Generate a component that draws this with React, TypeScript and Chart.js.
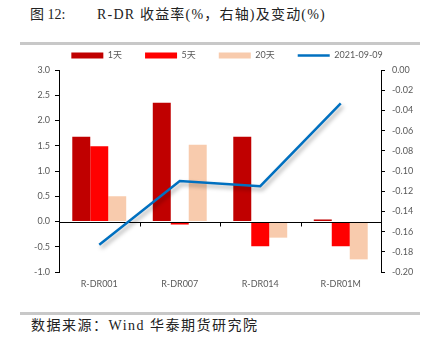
import React, { useEffect, useRef } from 'react';
import { Chart, registerables } from 'chart.js';

Chart.register(...registerables);

const categories = ['R-DR001', 'R-DR007', 'R-DR014', 'R-DR01M'];
const change1d = [1.68, 2.35, 1.68, 0.04];
const change5d = [1.49, -0.06, -0.49, -0.49];
const change20d = [0.5, 1.52, -0.32, -0.75];
const rate20210909 = [-0.173, -0.11, -0.115, -0.033];
const seriesNames = ['1天', '5天', '20天', '2021-09-09'];
const seriesColors = ['#C00000', '#FF0000', '#F8CBAD', '#0070C0'];
const leftAxis = { min: -1, max: 3, step: 0.5 };
const rightAxis = { min: -0.2, max: 0, step: 0.02 };

const FONT = 'Lato, "Noto Sans CJK SC", sans-serif';
const TICK_COLOR = '#595959';

const overlayPlugin = {
  id: 'overlay',
  beforeLayout(chart: any) {
    const legend = chart.legend;
    if (legend && !legend.__patched) {
      const orig = legend.fit;
      legend.fit = function () {
        orig.call(this);
        this.height = 42;
      };
      legend.__patched = true;
    }
  },
  beforeDatasetDraw(chart: any, args: any) {
    if (args.index !== 3) return;
    const ctx = chart.ctx;
    const xs = chart.scales.x;
    const ys = chart.scales.y;
    const y0 = Math.round(ys.getPixelForValue(0)) + 0.5;
    ctx.save();
    ctx.strokeStyle = '#000';
    ctx.lineWidth = 1;
    ctx.beginPath();
    ctx.moveTo(chart.chartArea.left, y0);
    ctx.lineTo(chart.chartArea.right, y0);
    for (let i = 1; i < categories.length; i++) {
      const x = Math.round((xs.getPixelForValue(i - 1) + xs.getPixelForValue(i)) / 2) + 0.5;
      ctx.moveTo(x, y0);
      ctx.lineTo(x, y0 + 4);
    }
    ctx.stroke();
    ctx.restore();
    ctx.save();
    ctx.shadowColor = 'rgba(0,0,0,0.35)';
    ctx.shadowBlur = 4;
    ctx.shadowOffsetX = 2;
    ctx.shadowOffsetY = 3;
  },
  afterDatasetDraw(chart: any, args: any) {
    if (args.index !== 3) return;
    chart.ctx.restore();
  },
};

function ChartView() {
  const ref = useRef<HTMLCanvasElement>(null);
  useEffect(() => {
    if (!ref.current) return;
    const barCommon = { yAxisID: 'y', order: 2, categoryPercentage: 0.67, barPercentage: 1 };
    const chart = new Chart(ref.current, {
      type: 'bar',
      data: {
        labels: categories,
        datasets: [
          { ...barCommon, type: 'bar', label: seriesNames[0], data: change1d, backgroundColor: seriesColors[0] },
          { ...barCommon, type: 'bar', label: seriesNames[1], data: change5d, backgroundColor: seriesColors[1] },
          { ...barCommon, type: 'bar', label: seriesNames[2], data: change20d, backgroundColor: seriesColors[2] },
          {
            type: 'line',
            label: seriesNames[3],
            data: rate20210909,
            borderColor: seriesColors[3],
            backgroundColor: seriesColors[3],
            borderWidth: 2.5,
            pointRadius: 0,
            tension: 0,
            fill: false,
            yAxisID: 'y1',
            order: 1,
          },
        ] as any,
      },
      options: {
        animation: false,
        responsive: false,
        maintainAspectRatio: false,
        layout: { padding: { left: 19, right: 0, top: 0, bottom: 0 } },
        plugins: {
          tooltip: { enabled: false },
          legend: {
            position: 'top',
            labels: {
              usePointStyle: true,
              pointStyleWidth: 32,
              boxHeight: 6,
              padding: 23,
              color: TICK_COLOR,
              font: { family: FONT, size: 9 },
              sort: (a: any, b: any) => a.datasetIndex - b.datasetIndex,
              generateLabels(c: any) {
                const items = (Chart as any).defaults.plugins.legend.labels.generateLabels(c);
                return items.map((it: any) => {
                  const i = it.datasetIndex;
                  return {
                    ...it,
                    pointStyle: i === 3 ? 'line' : 'rect',
                    lineWidth: i === 3 ? 2.5 : 0,
                    strokeStyle: seriesColors[i],
                    fillStyle: seriesColors[i],
                  };
                });
              },
            },
          },
        },
        scales: {
          x: {
            grid: { display: false, drawTicks: false },
            border: { display: false },
            ticks: { color: TICK_COLOR, font: { family: FONT, size: 9 }, padding: 7 },
            afterFit(s: any) {
              s.height = 28;
            },
          },
          y: {
            position: 'left',
            min: leftAxis.min,
            max: leftAxis.max,
            ticks: {
              stepSize: leftAxis.step,
              color: TICK_COLOR,
              font: { family: FONT, size: 9 },
              padding: 5,
              callback: (v: any) => Number(v).toFixed(1),
            },
            grid: { drawOnChartArea: false, color: '#000', tickColor: '#000', tickLength: 4 },
            border: { color: '#000', width: 1 },
            afterFit(s: any) {
              s.width = 40;
            },
          },
          y1: {
            position: 'right',
            min: rightAxis.min,
            max: rightAxis.max,
            ticks: {
              stepSize: rightAxis.step,
              color: TICK_COLOR,
              font: { family: FONT, size: 9 },
              padding: 7,
              callback: (v: any) => {
                const n = Number(v);
                return (Math.abs(n) < 1e-9 ? 0 : n).toFixed(2);
              },
            },
            grid: { drawOnChartArea: false, color: '#000', tickColor: '#000', tickLength: 4 },
            border: { color: '#000', width: 1 },
            afterFit(s: any) {
              s.width = 54;
            },
          },
        },
      } as any,
      plugins: [overlayPlugin],
    });
    return () => chart.destroy();
  }, []);
  return (
    <canvas
      ref={ref}
      width={435}
      height={272}
      style={{ position: 'absolute', left: 0, top: 28, width: 435, height: 272 }}
    />
  );
}

export default function App() {
  const serif = '"Liberation Serif", "DejaVu Serif", "Noto Sans CJK SC", serif';
  return (
    <div style={{ position: 'absolute', left: 0, top: 0, width: 435, height: 354, background: '#fff', overflow: 'hidden' }}>
      <div style={{ position: 'absolute', left: 30, top: 6, fontFamily: serif, fontSize: 14, color: '#222', whiteSpace: 'nowrap', lineHeight: '18px' }}>
        图 12:
      </div>
      <div style={{ position: 'absolute', left: 97, top: 6, fontFamily: serif, fontSize: 14, color: '#222', whiteSpace: 'nowrap', lineHeight: '18px', letterSpacing: 1.2 }}>
        R-DR 收益率(%，右轴)及变动(%)
      </div>
      <div style={{ position: 'absolute', left: 20, top: 42, width: 400, height: 3, background: '#c8c8c8' }} />
      <ChartView />
      <div style={{ position: 'absolute', left: 20, top: 312, width: 400, height: 3, background: '#c8c8c8' }} />
      <div style={{ position: 'absolute', left: 31, top: 317, fontFamily: serif, fontSize: 14, color: '#222', whiteSpace: 'nowrap', lineHeight: '18px', letterSpacing: 1.5 }}>
        数据来源：Wind 华泰期货研究院
      </div>
    </div>
  );
}
